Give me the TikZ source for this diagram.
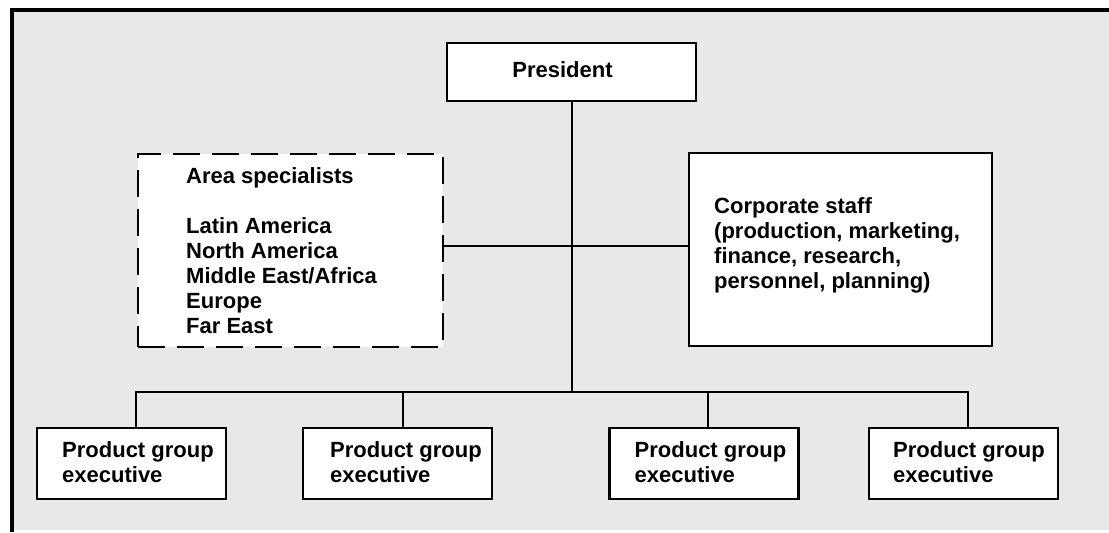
\documentclass[tikz,border=0pt]{standalone}
\usepackage{fontspec}
\setmainfont{Liberation Sans}
\definecolor{bgray}{RGB}{232,232,232}
\begin{document}
\begin{tikzpicture}[x=0.5pt,y=-0.5pt,
  box/.style={draw=black, line width=1.2pt, fill=white, rectangle, inner sep=0pt},
  dbox/.style={box, dash pattern=on 13.5pt off 6pt},
  pbox/.style={box, minimum width=94.5pt, minimum height=35.5pt},
  txt/.style={font=\bfseries\fontsize{11}{12.5}\selectfont, align=left, inner sep=0pt},
  conn/.style={line width=1pt}]
\useasboundingbox (0,0) rectangle (1109,532);
\fill[bgray] (12,10) rectangle (1109,530);
\draw[line width=1.8pt] (12,532) -- (12,10) -- (1109,10);

% boxes
\node[box, minimum width=124.5pt, minimum height=29pt] (pres) at (571.5,72) {};
\node[dbox, minimum width=152.5pt, minimum height=96.5pt] (area) at (290.5,250.5) {};
\node[box, minimum width=151.5pt, minimum height=96.5pt] (corp) at (840.5,249.5) {};
\node[pbox] (p1) at (131.5,463.5) {};
\node[pbox] (p2) at (397.5,463.5) {};
\node[pbox] (p3) at (704,463.5) {};
\node[pbox] (p4) at (963.5,463.5) {};

% texts
\node[txt] (prest) at ([xshift=-4.5pt,yshift=1pt]pres.center) {President};
\node[txt, anchor=west] (areat) at ([xshift=24.5pt]area.west) {Area specialists\\[12.5pt]Latin America\\North America\\Middle East/Africa\\Europe\\Far East};
\node[txt, anchor=west] (corpt) at ([xshift=13pt,yshift=2.25pt]corp.west) {Corporate staff\\(production, marketing,\\finance, research,\\personnel, planning)};
\foreach \i/\dx in {1/13pt,2/14pt,3/13pt,4/12.5pt}{
  \node[txt, anchor=west] (p\i t) at ([xshift=\dx,yshift=0.75pt]p\i.west) {Product group\\executive};
}

% connectors
\coordinate (hub) at (572,246);
\coordinate (bus) at (572,392);
\draw[conn] (pres.south -| bus) -- (bus);
\draw[conn] (area.east |- hub) -- (corp.west |- hub);
\draw[conn] ([xshift=2pt]p1.north) -- ([xshift=2pt]p1.north |- bus) -- ([xshift=2pt]p4.north |- bus) -- ([xshift=2pt]p4.north);
\draw[conn] ([xshift=2.5pt]p2.north) -- ([xshift=2.5pt]p2.north |- bus);
\draw[conn] ([xshift=2pt]p3.north) -- ([xshift=2pt]p3.north |- bus);
\end{tikzpicture}
\end{document}
